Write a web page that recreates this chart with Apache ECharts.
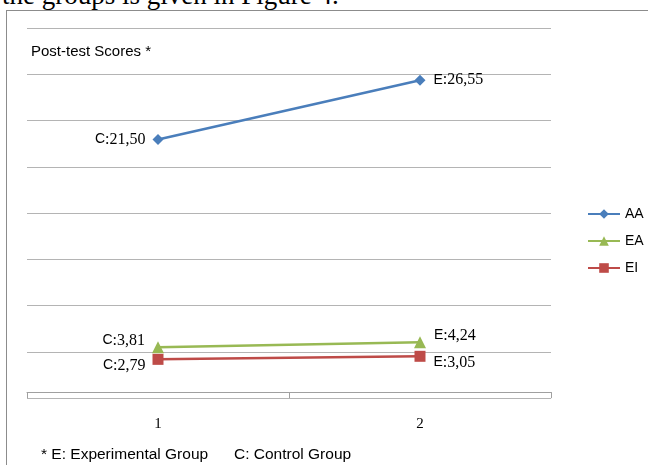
<!DOCTYPE html>
<html>
<head>
<meta charset="utf-8">
<script src="https://cdn.jsdelivr.net/npm/echarts@6/dist/echarts.min.js"></script>
<style>
html,body{margin:0;padding:0;background:#fff;overflow:hidden;}
#wrap{position:relative;width:648px;height:465px;overflow:hidden;}
#head{position:absolute;left:2px;top:-20px;font-family:"Liberation Serif",serif;font-size:27px;color:#000;white-space:nowrap;}
#box{position:absolute;left:6px;top:10px;width:700px;height:500px;border:1px solid #8c8c8c;box-sizing:border-box;}
#chart{position:absolute;left:0;top:0;width:648px;height:465px;}
</style>
</head>
<body>
<div id="wrap">
<div id="head">the groups is given in Figure 4.</div>
<div id="box"></div>
<div id="chart"></div>
</div>
<script>
var categories = ['1', '2'];
var seriesNames = ['AA', 'EA', 'EI'];
var aaValues = [21.50, 26.55];
var eaValues = [3.81, 4.24];
var eiValues = [2.79, 3.05];
var groupPrefix = ['C', 'E'];
var titleText = 'Post-test Scores *';
var footText = '* E: Experimental Group      C: Control Group';

var colors = ['#4A7EBB', '#98B954', '#BE4B48'];
var symbols = ['diamond', 'triangle', 'rect'];
var symbolSizes = [11, 12, 11];
var labelShift = [0, -7, 6];

function fmt(v){ return v.toFixed(2).replace('.', ','); }

function makeSeries(name, values, idx){
  return {
    name: name,
    type: 'line',
    data: values.map(function(v, i){
      return i === 1 ? {value: v, label: {position: 'right', distance: 8}} : {value: v};
    }),
    symbol: symbols[idx],
    symbolSize: symbolSizes[idx],
    itemStyle: {color: colors[idx]},
    lineStyle: {color: colors[idx], width: 2.5},
    label: {
      show: true,
      formatter: function(p){
        return '{a|' + groupPrefix[p.dataIndex] + '}{b|:' + fmt(p.value) + '}';
      },
      position: 'left',
      distance: 7,
      rich: {
        a: {fontFamily: 'Liberation Sans, Arial', fontSize: 14, color: '#000'},
        b: {fontFamily: 'Liberation Serif, Times New Roman', fontSize: 16, color: '#000'}
      }
    },
    labelLayout: {dy: labelShift[idx]},
    emphasis: {disabled: true}
  };
}

var series = [
  makeSeries(seriesNames[0], aaValues, 0),
  makeSeries(seriesNames[1], eaValues, 1),
  makeSeries(seriesNames[2], eiValues, 2)
];

var chart = echarts.init(document.getElementById('chart'), null, {renderer: 'canvas'});
chart.setOption({
  animation: false,
  backgroundColor: 'transparent',
  title: [
    {text: titleText, left: 26, top: 39, textStyle: {fontFamily: 'Liberation Sans, Arial', fontSize: 15, fontWeight: 'normal', color: '#000'}},
    {text: footText, left: 36, top: 442, textStyle: {fontFamily: 'Liberation Sans, Arial', fontSize: 15.5, fontWeight: 'normal', color: '#000'}}
  ],
  legend: {
    orient: 'vertical',
    left: 587,
    top: 207,
    itemWidth: 32,
    itemHeight: 12,
    itemGap: 13,
    padding: 0,
    textStyle: {fontFamily: 'Liberation Sans, Arial', fontSize: 14, color: '#000', padding: [0,0,0,0]},
    data: seriesNames
  },
  grid: {left: 27, right: 97, top: 28, bottom: 67},
  xAxis: {
    type: 'category',
    data: categories,
    boundaryGap: true,
    axisLine: {lineStyle: {color: '#a0a0a0', width: 1}},
    axisTick: {show: true, length: 6, lineStyle: {color: '#a0a0a0'}},
    axisLabel: {fontFamily: 'Liberation Serif, Times New Roman', fontSize: 15, color: '#000', margin: 19}
  },
  yAxis: {
    type: 'value',
    min: -0.5,
    max: 31,
    interval: 3.9375,
    axisLine: {show: false},
    axisTick: {show: false},
    axisLabel: {show: false},
    splitLine: {lineStyle: {color: '#b4b4b4', width: 1}}
  },
  series: series
});
</script>
</body>
</html>
